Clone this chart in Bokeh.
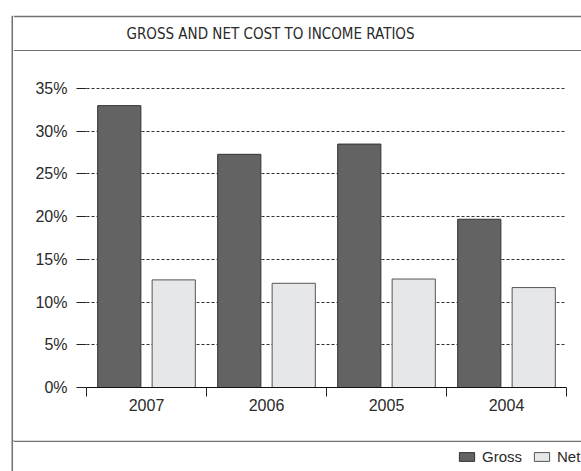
from bokeh.plotting import figure
from bokeh.layouts import row, column
from bokeh.models import Range1d, FixedTicker, Legend, LegendItem, ColumnDataSource
from bokeh.core.properties import value
from bokeh.transform import dodge
from bokeh.embed import file_html
from bokeh.resources import INLINE

# ---- data ----
years = ["2007", "2006", "2005", "2004"]
gross = [33.0, 27.3, 28.5, 19.7]
net = [12.6, 12.2, 12.7, 11.7]
y_ticks = [0, 5, 10, 15, 20, 25, 30, 35]
y_tick_labels = ["0%", "5%", "10%", "15%", "20%", "25%", "30%", "35%"]
series_names = ["Gross", "Net"]
title_text = ["GROSS AND NET COST TO INCOME RATIOS"]

FONT = "Liberation Sans"
TITLE_FONT = "DejaVu Sans Condensed"
TXT = "#2a2a2a"
FRAME = "#727272"
GROSS_FILL, GROSS_LINE = "#636363", "#333333"
NET_FILL, NET_LINE = "#e6e7e8", "#555555"

W_STRIP = 13
W = 581 - W_STRIP


def blank(width, height):
    """A figure whose frame covers its whole canvas, in pixel units (y down)."""
    f = figure(width=width, height=height, x_range=Range1d(0, width), y_range=Range1d(height, 0),
               output_backend="svg", toolbar_location=None, frame_align=False,
               min_border=0, x_axis_location=None, y_axis_location=None)
    f.grid.visible = False
    f.outline_line_color = None
    f.background_fill_color = "white"
    f.border_fill_color = "white"
    return f


# ---- left border strip ----
strip = blank(W_STRIP, 471)
strip.segment(x0=[11.75], y0=[15.25], x1=[11.75], y1=[471], line_color=FRAME, line_width=1.5)

# ---- title band ----
top = blank(W, 51)
top.segment(x0=[0, 0], y0=[16, 50.25], x1=[W, W], y1=[16, 50.25], line_color=FRAME, line_width=1.5)
top.text(x=[257], y=[33.5], text=title_text, text_align="center", text_baseline="middle",
         text_font=value(TITLE_FONT), text_font_size="15px", text_color=TXT)

# ---- main chart ----
n = len(years)
centres = [i + 0.5 for i in range(n)]      # category slot centres
edges = list(range(n + 1))                 # category slot boundaries
src = ColumnDataSource(dict(pos=centres, year=years, gross=gross, net=net))

p = figure(width=W, height=389, x_range=Range1d(0, n), y_range=Range1d(0, 38.05),
           output_backend="svg", toolbar_location=None, frame_align=False,
           min_border_left=73, min_border_right=15, min_border_top=11, min_border_bottom=53)
p.outline_line_color = None
p.background_fill_color = "white"
p.border_fill_color = "white"

p.xgrid.visible = False
p.ygrid.ticker = FixedTicker(ticks=y_ticks)
p.ygrid.grid_line_color = "#333333"
p.ygrid.grid_line_dash = "3 2"
p.ygrid.grid_line_width = 1

p.yaxis.ticker = FixedTicker(ticks=y_ticks)
p.yaxis.major_label_overrides = {t: l for t, l in zip(y_ticks, y_tick_labels)}
p.yaxis.axis_line_color = None
p.yaxis.major_tick_line_color = "#222222"
p.yaxis.major_tick_out = 10
p.yaxis.major_tick_in = 0
p.yaxis.minor_tick_line_color = None
p.yaxis.major_label_standoff = 9
p.yaxis.major_label_text_font = FONT
p.yaxis.major_label_text_font_size = "16px"
p.yaxis.major_label_text_color = TXT

xa = p.xaxis[0]
xa.ticker = FixedTicker(ticks=centres, minor_ticks=edges)
xa.major_label_overrides = {c: y for c, y in zip(centres, years)}
xa.axis_line_color = "#111111"
xa.axis_line_width = 1
xa.major_tick_out = 0
xa.major_tick_in = 0
xa.major_tick_line_color = None
xa.minor_tick_line_color = "#222222"
xa.minor_tick_out = 9
xa.minor_tick_in = 0
xa.major_label_standoff = 2
xa.major_label_text_font = FONT
xa.major_label_text_font_size = "16px"
xa.major_label_text_color = TXT

p.vbar(x=dodge("pos", -0.227), top="gross", width=0.36, source=src,
       fill_color=GROSS_FILL, line_color=GROSS_LINE, line_width=1)
p.vbar(x=dodge("pos", 0.227), top="net", width=0.36, source=src,
       fill_color=NET_FILL, line_color=NET_LINE, line_width=1)

# ---- legend band ----
bot = blank(W, 31)
bot.segment(x0=[0], y0=[0.75], x1=[W], y1=[0.75], line_color=FRAME, line_width=1.5)
# legend proxies: one off-canvas sample each, only used to style the legend swatches
lg = bot.vbar(x=[-100], top=[-100], bottom=[-101], width=1,
              fill_color=GROSS_FILL, line_color=GROSS_LINE, line_width=1)
ln = bot.vbar(x=[-100], top=[-100], bottom=[-101], width=1,
              fill_color=NET_FILL, line_color=NET_LINE, line_width=1)
legend = Legend(items=[LegendItem(label=series_names[0], renderers=[lg]),
                       LegendItem(label=series_names[1], renderers=[ln])],
                orientation="horizontal", location=(444, 6),
                glyph_width=19, glyph_height=11, label_standoff=6, spacing=10,
                padding=0, margin=0, border_line_color=None, background_fill_alpha=0,
                label_text_font=FONT, label_text_font_size="15px", label_text_color=TXT)
bot.add_layout(legend)

layout = row(strip, column(top, p, bot, spacing=0), spacing=0)
open("out.html", "w").write(file_html(layout, INLINE))
